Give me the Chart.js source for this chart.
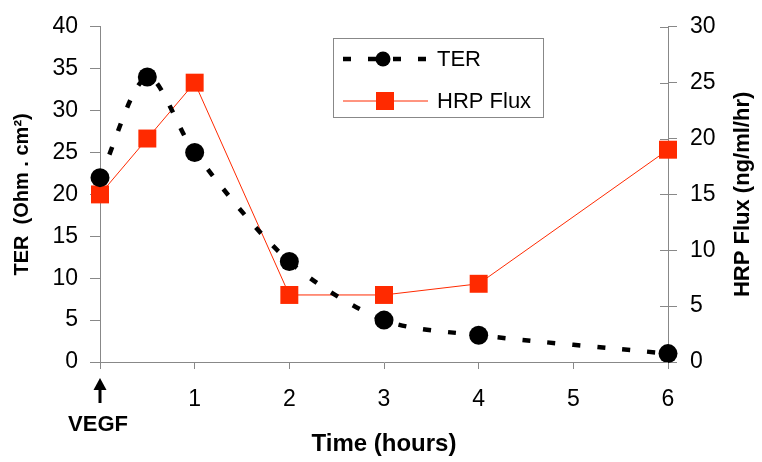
<!DOCTYPE html>
<html>
<head>
<meta charset="UTF-8">
<script src="https://cdn.jsdelivr.net/npm/chart.js@4.4.1/dist/chart.umd.min.js"></script>
<title>TER and HRP flux after VEGF</title>
<style>
  html, body { margin: 0; padding: 0; background: #fff; }
</style>
</head>
<body>
<canvas id="plot" width="762" height="462"></canvas>
<script>
// values
const hours     = [0, 0.5, 1, 2, 3, 4, 6];
const terValues = [22, 34, 25, 12, 5, 3.2, 1];   // Ohm.cm2 (left axis)
const hrpValues = [15, 20, 25, 6, 6, 7, 19];     // ng/ml/hr (right axis)
const timeTicks = [0, 1, 2, 3, 4, 5, 6];
const terTicks  = [0, 5, 10, 15, 20, 25, 30, 35, 40];
const hrpTicks  = [0, 5, 10, 15, 20, 25, 30];

const RED  = '#ff2a00';
const AXIS = '#888888';
const FONT = 'Liberation Sans, Arial, sans-serif';

const toPoints = (ys) => hours.map((h, i) => ({ x: h, y: ys[i] }));
const fixTicks = (list) => (scale) => { scale.ticks = list.map(v => ({ value: v })); };

// legend box, VEGF arrow, right title and the inner ticks of the right axis
const extras = {
    id: 'extras',
    afterDraw(chart) {
        const ctx = chart.ctx;
        const x = chart.scales.x, y1 = chart.scales.y1;
        ctx.save();

        // right axis ticks cross the axis line
        ctx.strokeStyle = AXIS;
        ctx.lineWidth = 1;
        hrpTicks.forEach(v => {
            const py = Math.round(y1.getPixelForValue(v)) + 0.5;
            ctx.beginPath();
            ctx.moveTo(y1.left - 8, py);
            ctx.lineTo(y1.left, py);
            ctx.stroke();
        });
        // x axis line runs a little past the left axis
        const ay = Math.round(x.top) + 0.5;
        ctx.beginPath();
        ctx.moveTo(x.left - 8, ay);
        ctx.lineTo(x.left, ay);
        ctx.stroke();

        // right axis title, reading bottom to top
        ctx.save();
        ctx.translate(743, (chart.chartArea.top + chart.chartArea.bottom) / 2);
        ctx.rotate(-Math.PI / 2);
        ctx.fillStyle = '#000';
        ctx.font = 'bold 22px ' + FONT;
        ctx.textAlign = 'center';
        ctx.textBaseline = 'middle';
        ctx.fillText('HRP Flux (ng/ml/hr)', 0, 0);
        ctx.restore();

        // VEGF arrow under t = 0
        const ax = x.getPixelForValue(0);
        ctx.fillStyle = '#000';
        ctx.strokeStyle = '#000';
        ctx.lineWidth = 3;
        ctx.beginPath();
        ctx.moveTo(ax, 403);
        ctx.lineTo(ax, 388);
        ctx.stroke();
        ctx.beginPath();
        ctx.moveTo(ax, 378);
        ctx.lineTo(ax - 6.5, 390);
        ctx.lineTo(ax + 6.5, 390);
        ctx.closePath();
        ctx.fill();
        ctx.font = 'bold 22px ' + FONT;
        ctx.textAlign = 'center';
        ctx.textBaseline = 'middle';
        ctx.fillText('VEGF', ax - 2, 425);

        // legend
        const bx = 333.5, by = 38.5, bw = 210, bh = 79;
        ctx.fillStyle = '#fff';
        ctx.fillRect(bx, by, bw, bh);
        ctx.strokeStyle = AXIS;
        ctx.lineWidth = 1;
        ctx.strokeRect(bx, by, bw, bh);

        const ds = chart.data.datasets;
        // TER row
        ctx.strokeStyle = ds[0].borderColor;
        ctx.lineWidth = ds[0].borderWidth;
        ctx.setLineDash(ds[0].borderDash);
        ctx.beginPath();
        ctx.moveTo(343, 59);
        ctx.lineTo(428, 59);
        ctx.stroke();
        ctx.setLineDash([]);
        ctx.fillStyle = '#000';
        ctx.beginPath();
        ctx.arc(383, 59, 7.5, 0, Math.PI * 2);
        ctx.fill();
        // HRP row
        ctx.strokeStyle = ds[1].borderColor;
        ctx.lineWidth = 1;
        ctx.beginPath();
        ctx.moveTo(343, 101);
        ctx.lineTo(428, 101);
        ctx.stroke();
        ctx.fillStyle = RED;
        ctx.fillRect(376, 92, 18, 18);

        ctx.fillStyle = '#000';
        ctx.font = '22px ' + FONT;
        ctx.textAlign = 'left';
        ctx.fillText(ds[0].label, 437, 60);
        ctx.fillText(ds[1].label, 437, 102);
        ctx.restore();
    }
};

const chart = new Chart(document.getElementById('plot'), {
    type: 'line',
    data: {
        datasets: [
            {
                label: 'TER',
                data: toPoints(terValues),
                yAxisID: 'y',
                borderColor: '#000',
                borderWidth: 4.5,
                borderDash: [8, 17],
                borderCapStyle: 'butt',
                tension: 0.3,
                pointStyle: 'circle',
                pointRadius: 9.5,
                pointBackgroundColor: '#000',
                pointBorderColor: '#000',
                pointBorderWidth: 0,
                clip: false
            },
            {
                label: 'HRP Flux',
                data: toPoints(hrpValues),
                yAxisID: 'y1',
                borderColor: RED,
                borderWidth: 1,
                tension: 0,
                pointStyle: 'rect',
                pointRadius: 12.7,
                pointBackgroundColor: RED,
                pointBorderColor: RED,
                pointBorderWidth: 0,
                clip: false
            }
        ]
    },
    options: {
        responsive: false,
        animation: false,
        layout: { padding: { top: 17, left: 0, right: 0, bottom: 0 } },
        plugins: { legend: { display: false }, tooltip: { enabled: false } },
        scales: {
            x: {
                type: 'linear',
                min: 0,
                max: 6,
                afterBuildTicks: fixTicks(timeTicks),
                afterFit: (s) => { s.height = 100; },
                border: { color: AXIS, width: 1 },
                grid: { drawOnChartArea: false, tickLength: 7, color: AXIS },
                ticks: {
                    padding: 17,
                    color: '#000',
                    font: { family: FONT, size: 23 },
                    maxRotation: 0,
                    callback: (v) => v === 0 ? '' : v
                },
                title: {
                    display: true,
                    text: 'Time (hours)',
                    color: '#000',
                    font: { family: FONT, size: 24, weight: 'bold' },
                    padding: { top: 0, bottom: 3 }
                }
            },
            y: {
                position: 'left',
                min: 0,
                max: 40,
                afterBuildTicks: fixTicks(terTicks),
                afterFit: (s) => { s.width = 100; },
                border: { color: AXIS, width: 1 },
                grid: { drawOnChartArea: false, tickLength: 10, color: AXIS },
                ticks: {
                    padding: 12,
                    color: '#000',
                    font: { family: FONT, size: 23 }
                },
                title: {
                    display: true,
                    text: 'TER  (Ohm . cm²)',
                    color: '#000',
                    font: { family: FONT, size: 20, weight: 'bold' },
                    padding: { top: 10, bottom: 0 }
                }
            },
            y1: {
                position: 'right',
                min: 0,
                max: 30,
                afterBuildTicks: fixTicks(hrpTicks),
                afterFit: (s) => { s.width = 94; },
                border: { color: AXIS, width: 1 },
                grid: { drawOnChartArea: false, tickLength: 9, color: AXIS },
                ticks: {
                    padding: 13,
                    color: '#000',
                    font: { family: FONT, size: 23 }
                }
            }
        }
    },
    plugins: [extras]
});
</script>
</body>
</html>
